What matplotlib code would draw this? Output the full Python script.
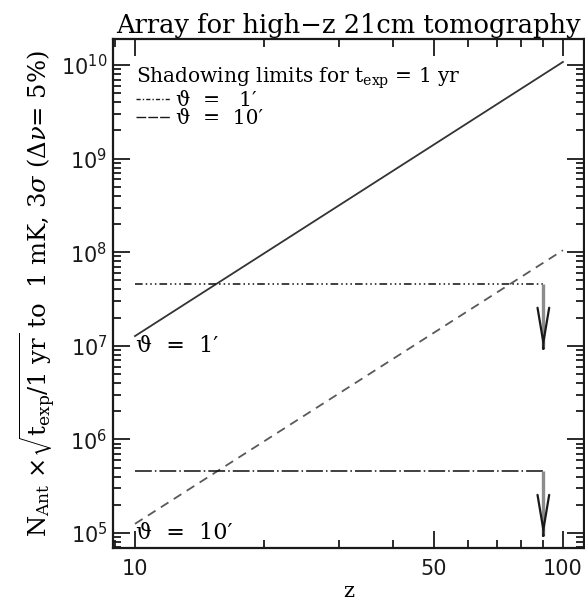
import numpy as np
import matplotlib
matplotlib.use("Agg")
import matplotlib.pyplot as plt
from matplotlib.lines import Line2D
from matplotlib.ticker import FixedLocator, FixedFormatter, LogLocator, NullFormatter

plt.rcParams['font.family'] = ['DejaVu Serif']
plt.rcParams['mathtext.fontset'] = 'dejavuserif'

# N_Ant needed vs redshift, for two angular resolutions
z = [10, 100]
n_ant_1arcmin = [1.27e7, 1.08e10]
n_ant_10arcmin = [1.25e5, 1.05e8]

# shadowing limits (1 yr integration), drawn up to z_cut with a downward arrow
z_cut = 90
shadow_1arcmin = 4.6e7
shadow_10arcmin = 4.6e5
arrow_factor = 5.0

xticks = [10, 50, 100]
xtick_labels = ['10', '50', '100']
yticks = [1e5, 1e6, 1e7, 1e8, 1e9, 1e10]
ytick_labels = [r'$\mathregular{10^{%d}}$' % k for k in range(5, 11)]

fig = plt.figure(figsize=(5.85, 6.03), dpi=100)
ax = fig.add_axes([113/585, 1 - 548/603, 471/585, (548 - 39)/603])

ax.plot(z, n_ant_1arcmin, color='0.2', lw=1.3)
ax.plot(z, n_ant_10arcmin, color='0.35', lw=1.3, linestyle=(0, (5, 3.5)))

dash_1 = (0, (5, 2, 1, 2, 1, 2, 1, 2))
dash_10 = (0, (11, 2, 1, 2))
ax.plot([z[0], z_cut], [shadow_1arcmin, shadow_1arcmin], color='0.05', lw=1.1, linestyle=dash_1)
ax.plot([z[0], z_cut], [shadow_10arcmin, shadow_10arcmin], color='0.05', lw=1.1, linestyle=dash_10)

for lim in (shadow_1arcmin, shadow_10arcmin):
    tip = lim / arrow_factor
    # grey shaft, then a dark open head at the tip
    ax.plot([z_cut, z_cut], [lim, tip * 1.03], color='0.55', lw=2.4, solid_capstyle='butt')
    ax.annotate('', xy=(z_cut, tip), xytext=(z_cut, tip * 1.02),
                arrowprops=dict(arrowstyle='->,head_length=2.5,head_width=0.42',
                                color='0.1', lw=1.6, shrinkA=0, shrinkB=0))

ax.text(10.05, 1e7, "ϑ  =  1′", fontsize=16, va='center', ha='left')
ax.text(10.05, 1e5, "ϑ  =  10′", fontsize=16, va='center', ha='left')

handles = [Line2D([], [], color='0.1', lw=1.0, linestyle=(0, (3, 1.5, 1, 1.5))),
           Line2D([], [], color='0.1', lw=1.0, linestyle=(0, (7, 1.5)))]
leg = ax.legend(handles, ["ϑ  =   1′", "ϑ  =  10′"],
                title=r'Shadowing limits for t$_{\rm exp}$ = 1 yr',
                loc='upper left', bbox_to_anchor=(0.048, 0.948),
                frameon=False, alignment='left', fontsize=14.5, title_fontsize=14.5,
                handlelength=1.7, handletextpad=0.3, labelspacing=-0.05,
                borderpad=0, borderaxespad=0)
leg._legend_box.sep = 0

ax.set_xscale('log')
ax.set_yscale('log')
ax.set_xlim(8.885, 112)
ax.set_ylim(6.9e4, 1.9e10)

ax.xaxis.set_major_locator(FixedLocator(xticks))
ax.xaxis.set_major_formatter(FixedFormatter(xtick_labels))
ax.xaxis.set_minor_locator(LogLocator(base=10, subs=np.arange(2, 10)))
ax.xaxis.set_minor_formatter(NullFormatter())
ax.yaxis.set_major_locator(FixedLocator(yticks))
ax.yaxis.set_major_formatter(FixedFormatter(ytick_labels))
ax.yaxis.set_minor_locator(LogLocator(base=10, subs=np.arange(2, 10)))
ax.yaxis.set_minor_formatter(NullFormatter())

ax.tick_params(which='both', direction='in', top=True, right=True, width=1.3, color='0.1')
ax.tick_params(which='major', length=12)
ax.tick_params(which='minor', length=6)
ax.tick_params(axis='x', which='major', pad=8)
ax.tick_params(axis='y', which='major', pad=4)
for lab in ax.get_xticklabels() + ax.get_yticklabels():
    lab.set_fontfamily('DejaVu Sans')
    lab.set_fontsize(15)
    lab.set_color('0.1')

for sp in ax.spines.values():
    sp.set_linewidth(1.6)
    sp.set_color('0.1')

ax.set_title('Array for high−z 21cm tomography', fontsize=18.5, pad=4)
ax.set_xlabel('z', fontsize=15, labelpad=2)
ax.set_ylabel(r'N$_{\rm Ant}$ $\times\sqrt{\rm t_{exp}/1\ yr}$ to  1 mK, 3$\sigma$ ($\Delta\nu$= 5%)',
              fontsize=17.5, labelpad=2)

fig.savefig('out.png', dpi=100)
